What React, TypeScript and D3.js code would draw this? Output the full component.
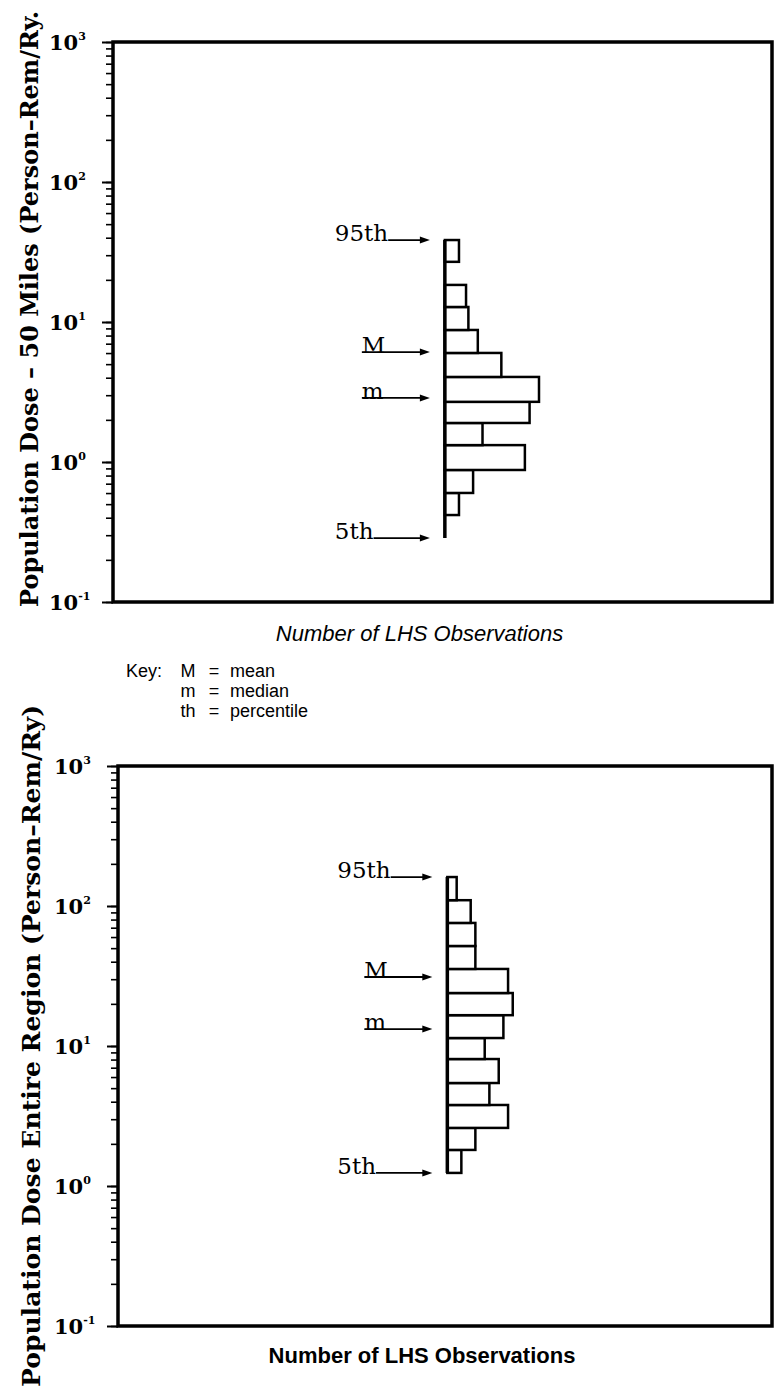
import { useEffect, useRef } from 'react';
import * as d3 from 'd3';

// decade labels shared by both panels
const decadeValues    = [0.1, 1, 10, 100, 1000];
const decadeExponents = ['-1', '0', '1', '2', '3'];

// upper panel: population dose within 50 miles (bins in ascending dose)
const nearEdges  = [0.286, 0.418, 0.601, 0.877, 1.32, 1.90, 2.69, 4.05, 6.01, 8.77, 12.8, 18.4, 26.9, 38.5];
const nearCounts = [0, 3, 6, 17, 8, 18, 20, 12, 7, 5, 4.5, 0, 3];
const nearMarkerLabels = ['5th', 'm', 'M', '95th'];
const nearMarkerValues = [0.286, 2.87, 6.1, 38.5];

// lower panel: population dose over the entire region
const regionEdges  = [1.24, 1.81, 2.60, 3.79, 5.44, 8.07, 11.4, 16.6, 23.9, 35.5, 51.8, 75.7, 110, 161];
const regionCounts = [3, 6, 13, 9, 11, 8, 12, 14, 13, 6, 6, 5, 2];
const regionMarkerLabels = ['5th', 'm', 'M', '95th'];
const regionMarkerValues = [1.24, 13.2, 31.1, 161];

// key
const keySymbols  = ['M', 'm', 'th'];
const keyMeanings = ['mean', 'median', 'percentile'];

const SERIF = '"DejaVu Serif", serif';
const SANS  = '"Liberation Sans", Arial, sans-serif';

interface Panel {
  left: number; right: number; top: number; bottom: number;
  edges: number[]; counts: number[];
  markerLabels: string[]; markerValues: number[];
  yTitle: string; titleX: number; titleY: number; titleLen: number;
  xLabelY: number; xLabelItalic: boolean;
}

function drawPanel(svg: d3.Selection<SVGSVGElement, unknown, null, undefined>, p: Panel) {
  const g = svg.append('g');
  const y = d3.scaleLog().domain([0.1, 1000]).range([p.bottom, p.top]);
  const x = d3.scaleLinear().domain([-70.5, 69.5]).range([p.left, p.right]);

  // minor + major ticks (outward, left)
  const minor = g.append('g')
    .attr('transform', `translate(${p.left},0)`)
    .call(d3.axisLeft(y).ticks(10).tickSize(7).tickFormat(() => ''));
  minor.select('.domain').remove();
  minor.selectAll('line').attr('stroke', '#000').attr('stroke-width', 1.6);

  const major = g.append('g')
    .attr('transform', `translate(${p.left},0)`)
    .call(d3.axisLeft(y).tickValues(decadeValues).tickSize(11).tickFormat(() => ''));
  major.select('.domain').remove();
  major.selectAll('line').attr('stroke', '#000').attr('stroke-width', 2);

  // frame
  g.append('rect')
    .attr('x', p.left).attr('y', p.top)
    .attr('width', p.right - p.left).attr('height', p.bottom - p.top)
    .attr('fill', 'none').attr('stroke', '#000').attr('stroke-width', 3.5);

  // decade labels 10^n
  decadeValues.forEach((v, i) => {
    const t = g.append('text')
      .attr('x', p.left - 64).attr('y', y(v) + 8)
      .attr('font-family', SERIF).attr('font-weight', 'bold').attr('fill', '#000');
    t.append('tspan').attr('font-size', 21).text('10');
    t.append('tspan').attr('font-size', 11).attr('dy', -10).text(decadeExponents[i]);
  });

  // histogram bars
  const bins = p.counts.map((c, i) => ({ c, lo: p.edges[i], hi: p.edges[i + 1] }));
  g.selectAll('rect.bar')
    .data(bins.filter(b => b.c > 0))
    .enter().append('rect')
    .attr('class', 'bar')
    .attr('x', x(0))
    .attr('y', d => y(d.hi))
    .attr('width', d => x(d.c) - x(0))
    .attr('height', d => y(d.lo) - y(d.hi))
    .attr('fill', '#fff').attr('stroke', '#000').attr('stroke-width', 2.5);

  g.append('line')
    .attr('x1', x(0)).attr('x2', x(0))
    .attr('y1', y(p.edges[0])).attr('y2', y(p.edges[p.edges.length - 1]))
    .attr('stroke', '#000').attr('stroke-width', 3.5);

  // percentile / mean / median arrows
  const tip = x(0) - 15;
  p.markerLabels.forEach((lab, i) => {
    const yy = y(p.markerValues[i]);
    const isStat = lab === 'M' || lab === 'm';
    const tx = x(0) - (isStat ? 83 : 110);
    const t = g.append('text')
      .attr('x', tx).attr('y', yy + 1)
      .attr('font-family', SERIF).attr('font-size', 23).attr('fill', '#000')
      .text(lab);
    const len = (t.node() as SVGTextElement).getComputedTextLength();
    const start = isStat ? tx : tx + len;
    g.append('line')
      .attr('x1', start).attr('x2', tip - 8)
      .attr('y1', yy).attr('y2', yy)
      .attr('stroke', '#000').attr('stroke-width', 1.8);
    g.append('path')
      .attr('d', `M${tip},${yy} L${tip - 10},${yy - 3.5} L${tip - 10},${yy + 3.5} Z`)
      .attr('fill', '#000');
  });

  // axis titles
  g.append('text')
    .attr('transform', `translate(${p.titleX},${p.titleY}) rotate(-90)`)
    .attr('text-anchor', 'middle')
    .attr('font-family', SERIF).attr('font-weight', 'bold').attr('font-size', 25)
    .attr('textLength', p.titleLen).attr('lengthAdjust', 'spacingAndGlyphs')
    .attr('fill', '#000')
    .text(p.yTitle);

  g.append('text')
    .attr('x', (p.left + p.right) / 2 - 23).attr('y', p.xLabelY)
    .attr('text-anchor', 'middle')
    .attr('font-family', SANS)
    .attr('font-style', p.xLabelItalic ? 'italic' : 'normal')
    .attr('font-weight', p.xLabelItalic ? 'normal' : 'bold')
    .attr('font-size', 22).attr('fill', '#000')
    .text('Number of LHS Observations');
}

export default function App() {
  const ref = useRef<SVGSVGElement>(null);

  useEffect(() => {
    if (!ref.current) return;
    const svg = d3.select(ref.current);
    svg.selectAll('*').remove();

    drawPanel(svg, {
      left: 113, right: 772, top: 42, bottom: 602,
      edges: nearEdges, counts: nearCounts,
      markerLabels: nearMarkerLabels, markerValues: nearMarkerValues,
      yTitle: 'Population Dose \u2013 50 Miles (Person\u2013Rem/Ry.',
      titleX: 38, titleY: 309, titleLen: 596,
      xLabelY: 641, xLabelItalic: true,
    });

    drawPanel(svg, {
      left: 118, right: 772, top: 766, bottom: 1326,
      edges: regionEdges, counts: regionCounts,
      markerLabels: regionMarkerLabels, markerValues: regionMarkerValues,
      yTitle: 'Population Dose Entire Region (Person\u2013Rem/Ry)',
      titleX: 40, titleY: 1046, titleLen: 682,
      xLabelY: 1363, xLabelItalic: false,
    });

    // key
    const key = svg.append('g').attr('font-family', SANS).attr('font-size', 18).attr('fill', '#000');
    key.append('text').attr('x', 126).attr('y', 677).text('Key:');
    keySymbols.forEach((s, i) => {
      const yy = 677 + i * 20;
      key.append('text').attr('x', 188).attr('y', yy).attr('text-anchor', 'middle').text(s);
      key.append('text').attr('x', 214).attr('y', yy).attr('text-anchor', 'middle').text('=');
      key.append('text').attr('x', 230).attr('y', yy).text(keyMeanings[i]);
    });
  }, []);

  return (
    <svg ref={ref} width={779} height={1394}
      style={{ position: 'absolute', left: 0, top: 0, background: '#fff', display: 'block' }} />
  );
}
